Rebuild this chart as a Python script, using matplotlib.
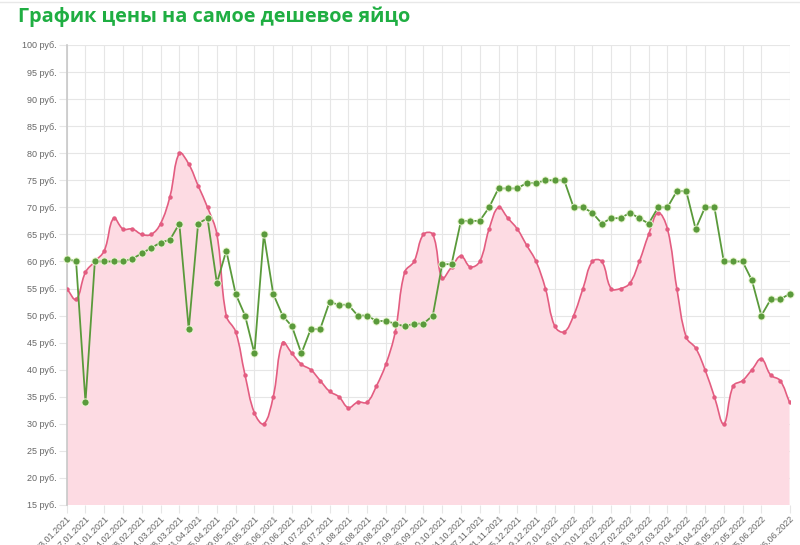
import numpy as np
import matplotlib
matplotlib.use("Agg")
import matplotlib.pyplot as plt
from matplotlib.path import Path
from matplotlib.patches import PathPatch
import datetime as dt

# ---- data ----
start = dt.date(2021, 1, 3)
dates = [(start + dt.timedelta(weeks=i)).strftime("%d.%m.%Y") for i in range(78)]

pink_values = [55, 53, 58, 60, 62, 68, 66, 66, 65, 65,
               67, 72, 80, 78, 74, 70, 65, 50, 47, 39,
               32, 30, 35, 45, 43, 41, 40, 38, 36, 35,
               33, 34, 34, 37, 41, 47, 58, 60, 65, 65,
               57, 59, 61, 59, 60, 66, 70, 68, 66, 63,
               60, 55, 48, 47, 50, 55, 60, 60, 55, 55,
               56, 60, 65, 69, 66, 55, 46, 44, 40, 35,
               30, 37, 38, 40, 42, 39, 38, 34]

green_values = [60.5, 60, 34, 60, 60, 60, 60, 60.5, 61.5, 62.5,
                63.5, 64, 67, 47.5, 67, 68, 56, 62, 54, 50,
                43, 65, 54, 50, 48, 43, 47.5, 47.5, 52.5, 52,
                52, 50, 50, 49, 49, 48.5, 48, 48.5, 48.5, 50,
                59.5, 59.5, 67.5, 67.5, 67.5, 70, 73.5, 73.5, 73.5, 74.5,
                74.5, 75, 75, 75, 70, 70, 69, 67, 68, 68,
                69, 68, 67, 70, 70, 73, 73, 66, 70, 70,
                60, 60, 60, 56.5, 50, 53, 53, 54]

y_ticks = list(range(15, 101, 5))
y_labels = [f"{v} руб." for v in y_ticks]
x_tick_idx = list(range(0, 75, 2)) + [77]
title = "График цены на самое дешевое яйцо"

# ---- style ----
LINE_PINK = "#e35d81"
FILL_PINK = "#fddbe3"
GREEN = "#5a9a3b"
GRID = "#e6e6e6"
TXT = "#666666"

plt.rcParams['font.family'] = ['Liberation Sans', 'DejaVu Sans']

fig = plt.figure(figsize=(8.0, 5.45), dpi=100)
ax = fig.add_axes([66.7 / 800, 1 - 505 / 545, (789.5 - 66.7) / 800, (505 - 45) / 545])

ax.set_xlim(0, 77)
ax.set_ylim(15, 100)

# Chart.js-like bezier smoothing (computed in pixel-like space)
def spline_path(xs, ys, t=0.4, sx=9.385, sy=5.412):
    P = np.column_stack([np.asarray(xs, float) * sx, np.asarray(ys, float) * sy])
    n = len(P)
    cps_prev = np.zeros_like(P)
    cps_next = np.zeros_like(P)
    for i in range(n):
        prev = P[i - 1] if i > 0 else P[i]
        nxt = P[i + 1] if i < n - 1 else P[i]
        d01 = np.hypot(*(P[i] - prev))
        d12 = np.hypot(*(nxt - P[i]))
        tot = d01 + d12
        s01 = d01 / tot if tot else 0
        s12 = d12 / tot if tot else 0
        cps_prev[i] = P[i] - t * s01 * (nxt - prev)
        cps_next[i] = P[i] + t * s12 * (nxt - prev)
    verts = [P[0]]
    codes = [Path.MOVETO]
    for i in range(n - 1):
        verts += [cps_next[i], cps_prev[i + 1], P[i + 1]]
        codes += [Path.CURVE4] * 3
    verts = np.array(verts)
    verts[:, 0] /= sx
    verts[:, 1] /= sy
    verts[:, 1] = np.clip(verts[:, 1], 15, 100)
    return verts, codes

x = np.arange(len(pink_values))
verts, codes = spline_path(x, pink_values)

fill_verts = np.vstack([verts, [[x[-1], 15], [x[0], 15], verts[0]]])
fill_codes = codes + [Path.LINETO, Path.LINETO, Path.CLOSEPOLY]
ax.add_patch(PathPatch(Path(fill_verts, fill_codes), facecolor=FILL_PINK, edgecolor='none', zorder=1))
ax.add_patch(PathPatch(Path(verts, codes), facecolor='none', edgecolor=LINE_PINK, lw=1.2, zorder=3))
ax.plot(x, pink_values, linestyle='none', marker='o', ms=2.2, color=LINE_PINK, zorder=4)

ax.plot(np.arange(len(green_values)), green_values, color=GREEN, lw=1.3, marker='o', ms=5.2,
        markerfacecolor=GREEN, markeredgecolor='#eaf6d2', markeredgewidth=0.7, zorder=5, clip_on=False)

# grid & axes
ax.set_yticks(y_ticks)
ax.set_yticklabels(y_labels)
ax.set_xticks(x_tick_idx)
ax.set_xticklabels([dates[i] for i in x_tick_idx], rotation=45, ha='right', va='top',
                   rotation_mode='anchor')
ax.grid(True, color=GRID, lw=0.8, zorder=0)
ax.set_axisbelow(True)
for s in ['top', 'right', 'bottom']:
    ax.spines[s].set_visible(False)
ax.spines['left'].set_color('#c8c8c8')
ax.spines['left'].set_linewidth(1.2)
ax.tick_params(axis='both', colors=GRID, length=6, width=0.8, labelsize=6.5, labelcolor=TXT)
ax.tick_params(axis='x', pad=0.5)
ax.tick_params(axis='y', pad=1.5)

fig.text(18 / 800, 1 - 17 / 545, title, color='#1fae42', fontsize=14.3, fontweight='bold',
         family=['Open Sans', 'DejaVu Sans'], ha='left', va='center')
fig.add_artist(plt.Line2D([0, 1], [1 - 2 / 545, 1 - 2 / 545], color='#e8e8e8', lw=1))

fig.savefig("out.png", dpi=100)
